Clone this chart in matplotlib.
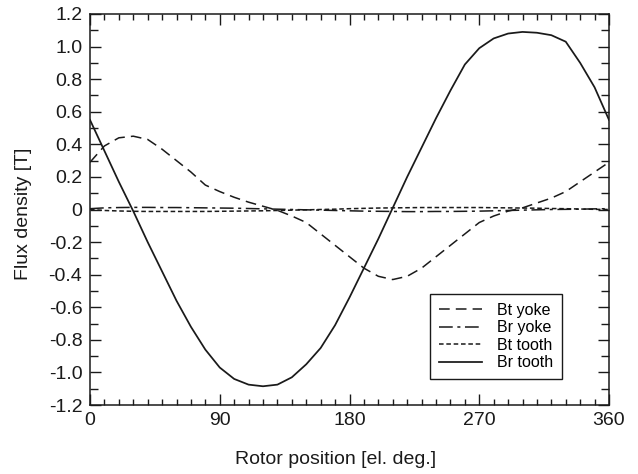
import numpy as np
import matplotlib
matplotlib.use("Agg")
import matplotlib.pyplot as plt
from matplotlib.ticker import MultipleLocator

plt.rcParams['font.family'] = ['Liberation Sans', 'DejaVu Sans']

# rotor position [el. deg.], every 10 deg
angle = list(range(0, 361, 10))

bt_yoke = [0.29, 0.39, 0.44, 0.45, 0.43, 0.37, 0.30, 0.23, 0.15, 0.11,
           0.075, 0.045, 0.02, -0.005, -0.04, -0.08, -0.15, -0.22, -0.29,
           -0.36, -0.41, -0.43, -0.41, -0.36, -0.29, -0.22, -0.15, -0.08,
           -0.04, -0.01, 0.01, 0.04, 0.07, 0.11, 0.17, 0.23, 0.29]

br_yoke = [0.005, 0.01, 0.012, 0.013, 0.013, 0.012, 0.012, 0.011, 0.01, 0.009,
           0.008, 0.006, 0.004, 0.002, 0.0, -0.002, -0.004, -0.006, -0.008,
           -0.01, -0.011, -0.012, -0.013, -0.013, -0.012, -0.012, -0.011, -0.01,
           -0.008, -0.006, -0.004, -0.002, 0.0, 0.001, 0.002, 0.004, 0.005]

bt_tooth = [0.0, -0.006, -0.009, -0.011, -0.012, -0.012, -0.012, -0.012, -0.012, -0.011,
            -0.01, -0.009, -0.008, -0.006, -0.004, -0.002, 0.0, 0.002, 0.005,
            0.007, 0.009, 0.01, 0.011, 0.012, 0.012, 0.012, 0.012, 0.012,
            0.011, 0.01, 0.009, 0.008, 0.006, 0.005, 0.003, 0.001, 0.0]

br_tooth = [0.55, 0.36, 0.17, -0.01, -0.20, -0.38, -0.56, -0.72, -0.86, -0.97,
            -1.04, -1.075, -1.085, -1.075, -1.03, -0.95, -0.85, -0.71, -0.54,
            -0.36, -0.18, 0.01, 0.20, 0.38, 0.56, 0.73, 0.89, 0.99,
            1.05, 1.08, 1.09, 1.085, 1.07, 1.03, 0.90, 0.75, 0.55]

fig = plt.figure(figsize=(6.38, 4.74), dpi=100)
ax = fig.add_axes([90 / 638, 1 - 405 / 474, 519 / 638, 391 / 474])

lw = 1.1
col = '#1a1a1a'
ax.plot(angle, bt_yoke, color=col, lw=lw, linestyle=(0, (7, 4)), label='Bt yoke')
ax.plot(angle, br_yoke, color=col, lw=lw, linestyle=(0, (9, 3, 2, 3)), label='Br yoke')
ax.plot(angle, bt_tooth, color=col, lw=lw, linestyle=(0, (3, 1.8)), label='Bt tooth')
ax.plot(angle, br_tooth, color=col, lw=lw * 1.15, linestyle='-', label='Br tooth')

ax.set_xlim(0, 360)
ax.set_ylim(-1.2, 1.2)
ax.xaxis.set_major_locator(MultipleLocator(90))
ax.xaxis.set_minor_locator(MultipleLocator(10))
ax.yaxis.set_major_locator(MultipleLocator(0.2))
ax.yaxis.set_minor_locator(MultipleLocator(0.1))

yt = np.round(np.arange(-1.2, 1.21, 0.2), 1)
ax.set_yticks(yt)
ax.set_yticklabels(['0' if v == 0 else f'{v:.1f}' for v in yt])

ax.tick_params(which='both', direction='in', top=True, right=True,
               labelsize=14, colors=col, width=1.0)
ax.tick_params(axis='x', which='major', length=8, pad=5)
ax.tick_params(axis='x', which='minor', length=4)
ax.tick_params(axis='y', which='major', length=8, pad=5.5)
ax.tick_params(axis='y', which='minor', length=5.5)
for s in ax.spines.values():
    s.set_linewidth(1.1)
    s.set_color(col)

ax.set_xlabel('Rotor position [el. deg.]', fontsize=14, color=col)
ax.set_ylabel('Flux density [T]', fontsize=14, color=col)
ax.xaxis.set_label_coords(0.474, -0.117)
ax.yaxis.set_label_coords(-0.112, 0.49)

leg = ax.legend(loc='lower left', bbox_to_anchor=(0.655, 0.0665), borderaxespad=0,
                fontsize=11.5, handlelength=2.7, labelspacing=0.15, handletextpad=0.95,
                fancybox=False, framealpha=1, edgecolor=col, borderpad=0.55)
leg.get_frame().set_linewidth(1.0)

fig.savefig('out.png', dpi=100)
